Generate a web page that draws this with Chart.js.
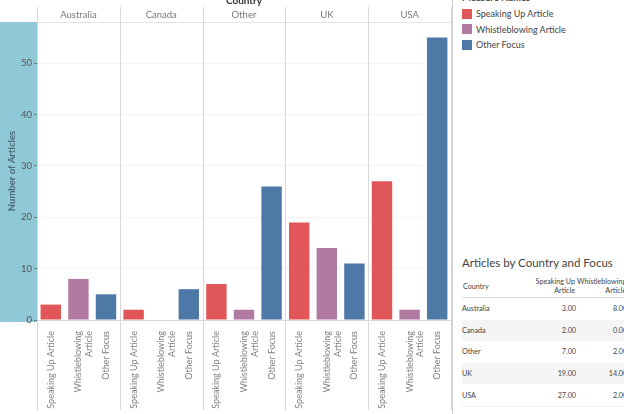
<!DOCTYPE html>
<html>
<head>
<meta charset="utf-8">
<script src="https://cdn.jsdelivr.net/npm/chart.js@4.4.0/dist/chart.umd.min.js"></script>
<style>
  body { margin: 0; width: 624px; height: 414px; overflow: hidden; background: #fff; position: relative;
         font-family: Lato, "Open Sans", sans-serif; color: #333; }
  #wrap { position: absolute; left: 0; top: 0; width: 454px; height: 414px; }
  #countryTitle { position: absolute; top: -6px; left: 37px; width: 414px; text-align: center;
                  font-weight: bold; font-size: 10px; color: #333; }
  #legend { position: absolute; left: 462px; top: -8px; font-size: 9px; color: #444; }
  #legend .ttl { font-weight: bold; font-size: 9.5px; height: 14px; }
  #legend .item { height: 15.5px; display: flex; align-items: center; }
  #legend .sw { width: 10px; height: 10px; margin-right: 4px; }
  #tableBox { position: absolute; left: 462px; top: 256px; width: 240px; }
  #tableBox h3 { margin: 0 0 6px 0; font-weight: normal; font-size: 11.5px; color: #444; }
  table { border-collapse: collapse; font-size: 7.2px; color: #444; table-layout: fixed; }
  th { font-weight: normal; vertical-align: middle; height: 20px; border-bottom: 1px solid #ddd; }
  td { height: 21.6px; padding: 0; }
  tr.alt td { background: #f5f5f5; }
  tr:last-child td { border-bottom: 1px solid #eee; }
  .num { text-align: right; }
</style>
</head>
<body>
<div id="wrap"><canvas id="chart" width="454" height="414"></canvas></div>
<div id="countryTitle">Country</div>
<div id="legend"></div>
<div id="tableBox">
  <h3>Articles by Country and Focus</h3>
  <table id="tbl"></table>
</div>
<script>
document.addEventListener('DOMContentLoaded', function() {
    // Data
    const countries = ['Australia', 'Canada', 'Other', 'UK', 'USA'];
    const measures = ['Speaking Up Article', 'Whistleblowing Article', 'Other Focus'];
    const measureLabels = ['Speaking Up Article', ['Whistleblowing', 'Article'], 'Other Focus'];
    const speakingUp = [3, 2, 7, 19, 27];
    const whistleblowing = [8, 0, 2, 14, 2];
    const otherFocus = [5, 6, 26, 11, 55];
    const yTicks = [0, 10, 20, 30, 40, 50];
    const colors = ['#e15759', '#b07aa1', '#4e79a7'];

    const series = [speakingUp, whistleblowing, otherFocus];

    // one bar per country x measure
    const labels = [];
    const values = [];
    const barColors = [];
    countries.forEach((c, i) => {
        measures.forEach((m, j) => {
            labels.push(measureLabels[j]);
            values.push(series[j][i]);
            barColors.push(colors[j]);
        });
    });

    // Blue band behind the value axis, panel dividers
    const panelDecor = {
        id: 'panelDecor',
        beforeDraw(chart) {
            const {ctx, chartArea} = chart;
            ctx.save();
            ctx.fillStyle = '#8fc8d6';
            ctx.fillRect(0, chartArea.top, chartArea.left, chartArea.bottom - chartArea.top + 2);
            ctx.restore();
        },
        beforeDatasetsDraw(chart) {
            const {ctx, scales: {x}} = chart;
            const catW = x.width / labels.length;
            ctx.save();
            ctx.strokeStyle = '#d9d9d9';
            ctx.lineWidth = 1;
            for (let i = 0; i <= countries.length; i++) {
                const px = Math.round(x.left + i * measures.length * catW) + 0.5;
                ctx.beginPath();
                ctx.moveTo(px, 7);
                ctx.lineTo(px, 410);
                ctx.stroke();
            }
            ctx.strokeStyle = '#cfcfcf';
            ctx.beginPath();
            ctx.moveTo(x.right + 1.5, 0);
            ctx.lineTo(x.right + 1.5, 414);
            ctx.stroke();
            ctx.restore();
        }
    };

    const ctx = document.getElementById('chart').getContext('2d');
    new Chart(ctx, {
        type: 'bar',
        data: {
            labels: labels,
            datasets: [{
                data: values,
                backgroundColor: barColors,
                barPercentage: 0.74,
                categoryPercentage: 1
            }]
        },
        options: {
            responsive: false,
            animation: false,
            layout: { padding: { left: 0, right: 3, top: 0, bottom: 0 } },
            plugins: {
                legend: { display: false },
                tooltip: { enabled: false }
            },
            scales: {
                x: {
                    type: 'category',
                    position: 'bottom',
                    offset: true,
                    grid: { display: false },
                    border: { display: true, color: '#d9d9d9' },
                    ticks: {
                        minRotation: 90,
                        maxRotation: 90,
                        autoSkip: false,
                        padding: 3,
                        color: '#808080',
                        font: { family: 'Lato', size: 9 }
                    },
                    afterFit: s => { s.height = 94; }
                },
                xTop: {
                    type: 'category',
                    position: 'top',
                    labels: countries,
                    offset: true,
                    grid: { display: false },
                    border: { display: true, color: '#e3e3e3' },
                    ticks: {
                        padding: -7,
                        color: '#777',
                        font: { family: 'Lato', size: 9.5 }
                    },
                    afterFit: s => { s.height = 22; }
                },
                y: {
                    min: 0,
                    max: 58,
                    grid: {
                        color: '#f3f3f3',
                        tickColor: '#777',
                        tickLength: 3
                    },
                    border: { display: false },
                    ticks: {
                        stepSize: 10,
                        padding: 2,
                        color: '#555',
                        font: { family: 'Lato', size: 9.5 }
                    },
                    afterBuildTicks: s => {
                        s.ticks = yTicks.map(v => ({ value: v }));
                    },
                    title: {
                        display: true,
                        text: 'Number of Articles',
                        color: '#4a6873',
                        font: { family: 'Lato', size: 9.5, weight: 'bold' },
                        padding: { top: 6, bottom: 0 }
                    },
                    afterFit: s => { s.width = 37; }
                }
            }
        },
        plugins: [panelDecor]
    });

    // Legend
    const legend = document.getElementById('legend');
    legend.innerHTML = '<div class="ttl">Measure Names</div>';
    measures.forEach((m, j) => {
        const item = document.createElement('div');
        item.className = 'item';
        item.innerHTML = '<span class="sw" style="background:' + colors[j] + '"></span>' + m;
        legend.appendChild(item);
    });

    // Table
    const tbl = document.getElementById('tbl');
    let html = '<colgroup><col style="width:68px"><col style="width:46px"><col style="width:50px"><col style="width:50px"></colgroup>';
    html += '<tr><th style="text-align:left">Country</th>' +
        '<th class="num">Speaking Up<br>Article</th>' +
        '<th class="num">Whistleblowing<br>Article</th>' +
        '<th class="num">Other<br>Focus</th></tr>';
    countries.forEach((c, i) => {
        html += '<tr class="' + (i % 2 ? 'alt' : '') + '"><td>' + c + '</td>';
        series.forEach(s => { html += '<td class="num">' + s[i].toFixed(2) + '</td>'; });
        html += '</tr>';
    });
    tbl.innerHTML = html;
});
</script>
</body>
</html>
